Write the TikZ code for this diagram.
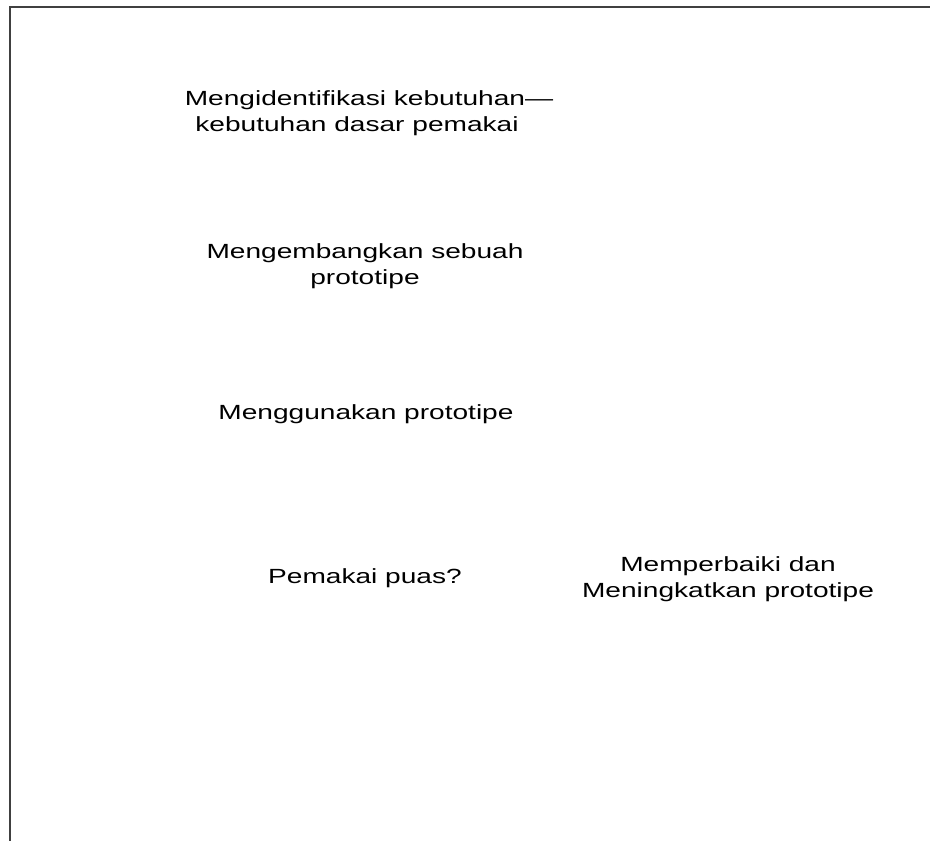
\documentclass[tikz,border=0pt]{standalone}
\usepackage{fontspec}
\setmainfont{Liberation Sans}[FakeStretch=1.37]
\begin{document}
\begin{tikzpicture}[x=1pt,y=-1pt,
  label text/.style={align=center, inner sep=0pt, font=\fontsize{20.5}{26}\selectfont, text=black},
  frame line/.style={draw=black!75, line width=2pt}]
  \useasboundingbox (0,0) rectangle (930,841);
  % open frame along the top and the left side
  \coordinate (tr) at (930,6.5);
  \coordinate (tl) at (9.5,6.5);
  \coordinate (bl) at (9.5,841);
  \draw[frame line] (tr) -- (tl) -- (bl);
  % step texts
  \node[label text] (identify) at (369,113) {Mengidentifikasi kebutuhan\textemdash\\kebutuhan dasar pemakai\hspace*{24pt}};
  \node[label text] (develop) at (365,266) {Mengembangkan sebuah\\prototipe};
  \node[label text] (use) at (366,414) {Menggunakan prototipe};
  \node[label text] (satisfied) at (365,578) {Pemakai puas?};
  \node[label text] (improve) at (728,579) {Memperbaiki dan\\Meningkatkan prototipe};
\end{tikzpicture}
\end{document}
